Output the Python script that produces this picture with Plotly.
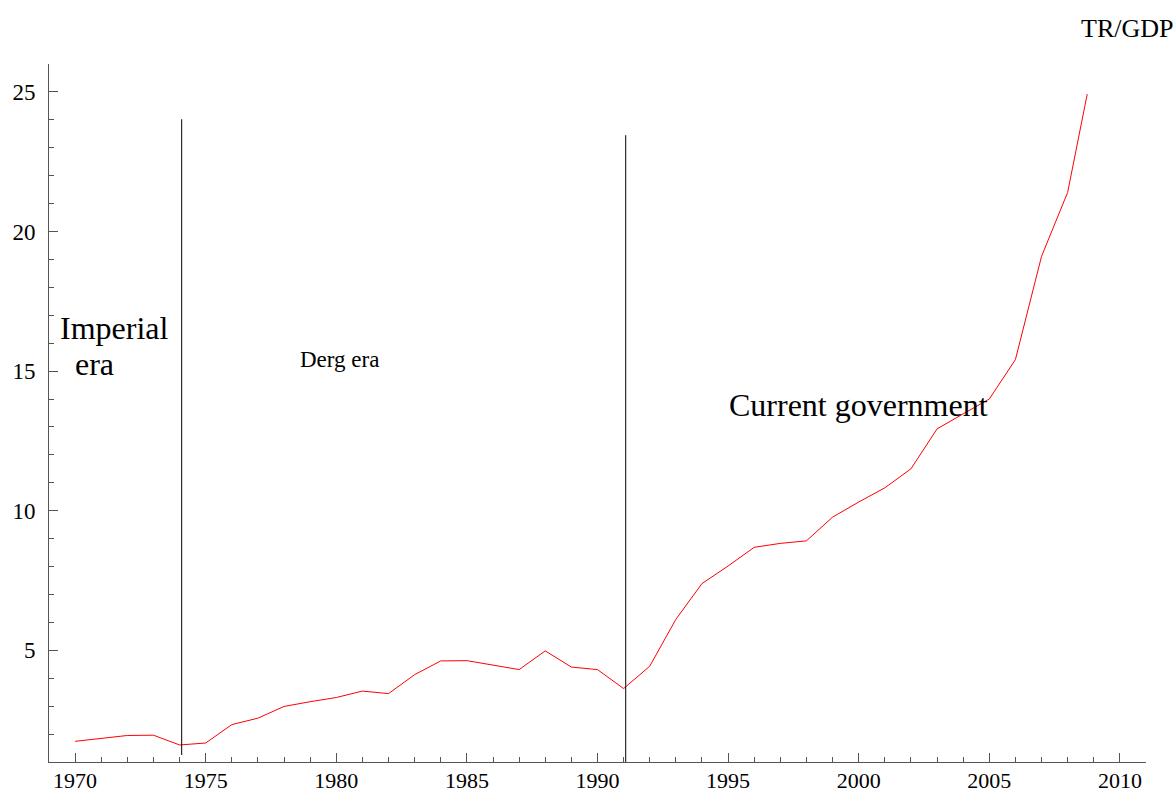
import plotly.graph_objects as go

# Data
years = [1970, 1971, 1972, 1973, 1974, 1975, 1976, 1977, 1978, 1979,
         1980, 1981, 1982, 1983, 1984, 1985, 1986, 1987, 1988, 1989,
         1990, 1991, 1992, 1993, 1994, 1995, 1996, 1997, 1998, 1999,
         2000, 2001, 2002, 2003, 2004, 2005, 2006, 2007, 2008, 2008.75]
tr_gdp = [1.74, 1.85, 1.95, 1.96, 1.61, 1.68, 2.34, 2.57, 2.99, 3.16,
          3.31, 3.54, 3.45, 4.13, 4.62, 4.63, 4.46, 4.31, 4.98, 4.40,
          4.31, 3.63, 4.43, 6.11, 7.39, 8.02, 8.69, 8.83, 8.92, 9.77,
          10.31, 10.82, 11.50, 12.93, 13.47, 14.00, 15.41, 19.11, 21.40, 24.92]

# Era boundary lines
boundary_x = [1974.08, 1991.08]
boundary_bottom = [1.25, 1.0]
boundary_top = [24.02, 23.45]

# Text labels
era_labels = ["Imperial", "era", "Derg era", "Current government"]
era_label_x = [1969.35, 1969.92, 1980.12, 2000.0]
era_label_y = [16.55, 15.25, 15.41, 13.77]

x_range = [1969, 2011]
y_range = [1, 26]
x_tickvals = [1970, 1975, 1980, 1985, 1990, 1995, 2000, 2005, 2010]
y_tickvals = [5, 10, 15, 20, 25]

FONT = "Liberation Serif"
AXIS_COLOR = "#555555"

W, H = 1176, 794
ML, MR, MT, MB = 49, 30, 64, 32
PW, PH = W - ML - MR, H - MT - MB

fig = go.Figure()

fig.add_trace(go.Scatter(
    x=years, y=tr_gdp, mode="lines",
    line=dict(color="rgb(255,0,0)", width=1),
    showlegend=False, hoverinfo="skip"))

for bx, b0, b1 in zip(boundary_x, boundary_bottom, boundary_top):
    fig.add_trace(go.Scatter(
        x=[bx, bx], y=[b0, b1], mode="lines",
        line=dict(color="black", width=1),
        showlegend=False, hoverinfo="skip"))

sizes = [32, 32, 23, 32]
anchors = ["left", "left", "center", "center"]
for t, ax, ay, s, a in zip(era_labels, era_label_x, era_label_y, sizes, anchors):
    fig.add_annotation(x=ax, y=ay, xref="x", yref="y", text=t,
                       showarrow=False, xanchor=a, yanchor="middle",
                       font=dict(family=FONT, size=s, color="black"))

fig.add_annotation(x=(1175 - ML) / PW, y=1 + (MT - 28) / PH,
                   xref="paper", yref="paper",
                   text="TR/GDP", showarrow=False, xanchor="right", yanchor="middle",
                   font=dict(family=FONT, size=26, color="black"))

fig.update_layout(
    width=W, height=H,
    margin=dict(l=ML, r=MR, t=MT, b=MB, autoexpand=False),
    paper_bgcolor="white", plot_bgcolor="white",
    font=dict(family=FONT, size=23, color="black"),
    showlegend=False,
)

fig.update_xaxes(
    range=x_range, showgrid=False, zeroline=False, automargin=False,
    showline=True, linecolor=AXIS_COLOR, linewidth=1,
    tickmode="array", tickvals=x_tickvals,
    ticks="inside", ticklen=9, tickcolor=AXIS_COLOR, tickwidth=1,
    ticklabelstandoff=-1,
    minor=dict(dtick=1, tick0=1970, ticks="inside", ticklen=5,
               tickcolor=AXIS_COLOR, showgrid=False),
    tickfont=dict(family=FONT, size=22, color="black"),
)
fig.update_yaxes(
    range=y_range, showgrid=False, zeroline=False, automargin=False,
    showline=True, linecolor=AXIS_COLOR, linewidth=1,
    tickmode="array", tickvals=y_tickvals,
    ticks="inside", ticklen=9, tickcolor=AXIS_COLOR, tickwidth=1,
    ticklabelstandoff=8,
    minor=dict(dtick=1, tick0=0, ticks="inside", ticklen=5,
               tickcolor=AXIS_COLOR, showgrid=False),
    tickfont=dict(family=FONT, size=23, color="black"),
)

fig.write_html(
    "out.html",
    config={"displayModeBar": False},
    post_script="document.body.style.margin='0';document.body.style.overflow='hidden';",
)
